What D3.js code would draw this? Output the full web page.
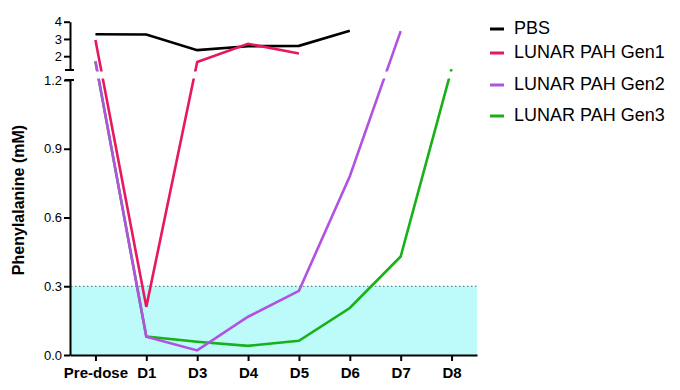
<!DOCTYPE html>
<html>
<head>
<meta charset="utf-8">
<script src="https://cdn.jsdelivr.net/npm/d3@7"></script>
<style>
  body { margin: 0; background: #fff; }
  svg { font-family: Arial, "Liberation Sans", sans-serif; }
</style>
</head>
<body>
<svg id="chart" width="680" height="390"></svg>
<script>
// data (mM)
const categories = ["Pre-dose", "D1", "D3", "D4", "D5", "D6", "D7", "D8"];
const pbs  = [3.27, 3.26, 2.35, 2.58, 2.6, 3.47, null, null];
const gen1 = [2.94, 0.21, 1.66, 2.72, 2.16, null, null, null];
const gen2 = [1.7, 0.08, 0.02, 0.167, 0.28, 0.78, 3.45, null];
const gen3 = [1.7, 0.08, 0.058, 0.04, 0.062, 0.205, 0.43, 1.25];
const seriesNames = ["PBS", "LUNAR PAH Gen1", "LUNAR PAH Gen2", "LUNAR PAH Gen3"];
const lowTicks = [0, 0.3, 0.6, 0.9, 1.2];
const highTicks = [2, 3, 4];
const threshold = 0.3;

const colors = ["#000000", "#e8185e", "#b153e0", "#19b019"];

const svg = d3.select("#chart");
const left = 70, right = 477, bottom = 355;

const x = d3.scalePoint().domain(categories).range([left, right]).padding(0.5);

// broken y axis: lower segment 0-1.2, upper segment 1.2-4
const yLow = d3.scaleLinear().domain([0, 1.2]).range([bottom, 80]);
const yHigh = d3.scaleLinear().domain([1.2, 4]).range([70, 21.7]);
const y = v => v <= 1.2 ? yLow(v) : yHigh(v);

/* threshold band */
svg.append("rect")
    .attr("x", left + 1)
    .attr("y", yLow(threshold))
    .attr("width", right - left - 1)
    .attr("height", yLow(0) - yLow(threshold))
    .attr("fill", "#bdfafa");

svg.append("line")
    .attr("x1", left + 1).attr("x2", right)
    .attr("y1", yLow(threshold)).attr("y2", yLow(threshold))
    .attr("stroke", "#3d6b6b")
    .attr("stroke-width", 1.2)
    .attr("stroke-dasharray", "1.5,2.5");

/* series lines */
const allSeries = [pbs, gen1, gen3, gen2];
const order = [0, 1, 3, 2];
const line = d3.line()
    .defined(d => d.v !== null)
    .x(d => x(d.c))
    .y(d => y(d.v));

allSeries.forEach((vals, i) => {
    const data = vals.map((v, j) => ({ c: categories[j], v: v }));
    svg.append("path")
        .datum(data)
        .attr("fill", "none")
        .attr("stroke", colors[order[i]])
        .attr("stroke-width", 2.6)
        .attr("stroke-linejoin", "miter")
        .attr("d", line);
});

// white gap for the axis break
svg.append("rect")
    .attr("x", left + 1)
    .attr("y", 71.5)
    .attr("width", right - left + 10)
    .attr("height", 7)
    .attr("fill", "#fff");

/* axes */
const lowAxis = svg.append("g")
    .attr("transform", `translate(${left},0)`)
    .call(d3.axisLeft(yLow).tickValues(lowTicks).tickFormat(d3.format(".1f"))
        .tickSize(6).tickPadding(2).tickSizeOuter(0));

const highAxis = svg.append("g")
    .attr("transform", `translate(${left},0)`)
    .call(d3.axisLeft(yHigh).tickValues(highTicks).tickFormat(d3.format("d"))
        .tickSize(6).tickPadding(2).tickSizeOuter(0));

[lowAxis, highAxis].forEach(g => {
    g.select(".domain").attr("stroke-width", 2);
    g.selectAll(".tick line").attr("stroke-width", 2);
    g.selectAll("text").style("font-size", "13px").attr("fill", "#000");
});

// break caps
[yHigh(1.2), yLow(1.2)].forEach(yy => {
    svg.append("line")
        .attr("x1", left - 5).attr("x2", left + 4)
        .attr("y1", yy).attr("y2", yy)
        .attr("stroke", "#000").attr("stroke-width", 2);
});

const xAxis = svg.append("g")
    .attr("transform", `translate(0,${bottom})`)
    .call(d3.axisBottom(x).tickSize(6).tickPadding(6).tickSizeOuter(0));
xAxis.select(".domain").attr("stroke-width", 2);
xAxis.selectAll(".tick line").attr("stroke-width", 2);
xAxis.selectAll("text")
    .style("font-size", "15px")
    .style("font-weight", "bold")
    .attr("fill", "#000");

/* y title */
svg.append("text")
    .attr("transform", "translate(24,200) rotate(-90)")
    .attr("text-anchor", "middle")
    .style("font-size", "16px")
    .style("font-weight", "bold")
    .text("Phenylalanine (mM)");

/* legend */
const legendY = [29, 53, 85, 116];
const legend = svg.append("g");
seriesNames.forEach((name, i) => {
    legend.append("line")
        .attr("x1", 490).attr("x2", 504)
        .attr("y1", legendY[i]).attr("y2", legendY[i])
        .attr("stroke", colors[i])
        .attr("stroke-width", 3);
    legend.append("text")
        .attr("x", 514)
        .attr("y", legendY[i])
        .attr("dominant-baseline", "middle")
        .style("font-size", "18px")
        .text(name);
});
</script>
</body>
</html>
